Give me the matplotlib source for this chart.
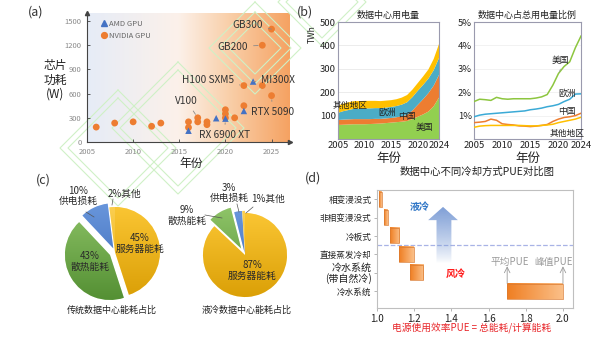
import numpy as np
import matplotlib
matplotlib.use("Agg")
import matplotlib.pyplot as plt
from matplotlib.colors import to_rgb
from matplotlib.patches import Polygon
from matplotlib.lines import Line2D

plt.rcParams['font.family'] = ['Noto Sans CJK SC', 'DejaVu Sans']
plt.rcParams['axes.unicode_minus'] = False

W, H = 600, 337

# ---------------- (a) GPU chip power ----------------
nv_year = [2006, 2008, 2010, 2012, 2013, 2016, 2016, 2017, 2017, 2018, 2018,
           2020, 2020, 2020, 2021, 2022, 2022, 2024, 2024, 2025, 2025]
nv_power = [185, 235, 250, 195, 235, 250, 180, 300, 250, 250, 215,
            400, 350, 300, 300, 450, 700, 700, 1200, 1400, 575]
amd_year = [2016, 2019, 2020, 2022, 2023]
amd_power = [140, 295, 290, 385, 750]
gpu_names = ['GB300', 'GB200', 'H100 SXM5', 'MI300X', 'V100', 'RTX 5090', 'RX 6900 XT']
gpu_name_year = [2025, 2024, 2022, 2023, 2017, 2025, 2020]
gpu_name_power = [1400, 1200, 700, 750, 300, 575, 290]
a_xticks = [2005, 2010, 2015, 2020, 2025]
a_yticks = [0, 300, 600, 900, 1200, 1500]

# ---------------- (b) data-centre electricity ----------------
years = list(range(2005, 2025))
use_us = [60, 61, 62, 63, 63, 63, 64, 65, 66, 68, 70, 72, 74, 77, 85, 95, 105, 117, 140, 177]
use_cn = [21, 22, 22, 22, 22, 22, 21, 21, 20, 20, 20, 21, 23, 26, 37, 51, 65, 79, 88, 97]
use_eu = [31, 36, 40, 44, 45, 46, 46, 46, 46, 46, 47, 48, 50, 54, 57, 60, 61, 62, 66, 72]
use_ot = [31, 32, 33, 33, 32, 32, 32, 31, 30, 30, 29, 29, 30, 31, 32, 33, 36, 39, 48, 60]
share_us = [1.60, 1.70, 1.68, 1.65, 1.78, 1.72, 1.70, 1.72, 1.72, 1.72, 1.72, 1.75, 1.80,
            1.90, 2.30, 2.80, 3.10, 3.30, 3.90, 4.40]
share_eu = [0.95, 1.02, 1.06, 1.08, 1.10, 1.12, 1.14, 1.16, 1.18, 1.20, 1.25, 1.28, 1.32,
            1.38, 1.42, 1.48, 1.60, 1.70, 1.92, 1.93]
share_cn = [0.70, 0.72, 0.75, 0.85, 0.80, 0.65, 0.62, 0.60, 0.56, 0.55, 0.53, 0.55, 0.58,
            0.62, 0.75, 0.85, 0.92, 0.95, 1.00, 1.10]
share_ot = [0.50, 0.55, 0.57, 0.58, 0.58, 0.58, 0.58, 0.58, 0.58, 0.57, 0.56, 0.56, 0.58,
            0.60, 0.63, 0.70, 0.75, 0.80, 0.85, 0.93]
region_names = ['美国', '中国', '欧洲', '其他地区']
b_xticks = [2005, 2010, 2015, 2020, 2024]

# ---------------- (c) energy breakdown ----------------
part_names = ['服务器能耗', '散热能耗', '供电损耗', '其他']
trad_share = [45, 43, 10, 2]
liquid_share = [87, 9, 3, 1]

# ---------------- (d) PUE by cooling method ----------------
cool_names = ['冷水系统', '冷水系统\n(带自然冷)', '直接蒸发冷却', '冷板式', '非相变浸没式', '相变浸没式']
pue_low = [1.70, 1.18, 1.12, 1.07, 1.04, 1.01]
pue_high = [2.00, 1.25, 1.20, 1.12, 1.06, 1.025]
d_xticks = [1.0, 1.2, 1.4, 1.6, 1.8, 2.0]


def rect(l, t, r, b):
    return [l / W, 1 - b / H, (r - l) / W, (b - t) / H]


def ftext(x, y, s, **kw):
    fig.text(x / W, 1 - y / H, s, **kw)


def ramp(c0, c1, n=256):
    a, b = np.array(to_rgb(c0)), np.array(to_rgb(c1))
    t = np.linspace(0, 1, n)[:, None]
    return a * (1 - t) + b * t


fig = plt.figure(figsize=(6, 3.37), dpi=100)
fig.patch.set_facecolor('white')

# ======================= panel (a) =======================
axa = fig.add_axes(rect(87, 13, 290, 142))
axa.set_xlim(2005, 2027)
axa.set_ylim(0, 1600)
stops = [(0.0, '#E6ECF7'), (0.45, '#FCF1EA'), (0.7, '#F9CFA9'), (1.0, '#F5A262')]
xs = np.linspace(0, 1, 400)
grad = np.zeros((1, 400, 3))
for k in range(3):
    grad[0, :, k] = np.interp(xs, [s[0] for s in stops], [to_rgb(s[1])[k] for s in stops])
axa.imshow(grad, extent=[2005, 2027, 0, 1600], aspect='auto', zorder=0)

# decorative light-green diamond outlines
diamonds = [(118, 148, 58), (118, 148, 50), (178, 128, 66), (178, 128, 58),
            (255, 48, 46), (255, 48, 36), (255, 48, 26), (322, 2, 44), (322, 2, 36)]
for cx, cy, h in diamonds:
    px = [cx, cx + h, cx, cx - h, cx]
    py = [cy - h, cy, cy + h, cy, cy - h]
    axa.add_line(Line2D([p / W for p in px], [1 - p / H for p in py], transform=fig.transFigure,
                        color='#CFF1C6', lw=0.8, clip_on=False, zorder=0.5))

for side in ['top', 'right']:
    axa.spines[side].set_visible(False)
for side in ['left', 'bottom']:
    axa.spines[side].set_color('#444444')
    axa.spines[side].set_linewidth(0.8)
axa.plot(1, 0, '>', color='#444444', ms=3, transform=axa.transAxes, clip_on=False)
axa.plot(0, 1, '^', color='#444444', ms=3, transform=axa.transAxes, clip_on=False)
axa.set_xticks(a_xticks)
axa.set_yticks(a_yticks)
axa.tick_params(direction='in', length=2, width=0.6, labelsize=5.5, labelcolor='#8a8a8a',
                color='#444444', pad=4)

axa.scatter(nv_year, nv_power, s=24, c='#ED7D31', edgecolors='none', zorder=4, label='NVIDIA GPU')
axa.scatter(amd_year, amd_power, s=22, c='#4472C4', marker='^', edgecolors='none', zorder=5,
            label='AMD GPU')
h_nv = Line2D([], [], ls='none', marker='o', color='#ED7D31', ms=4.2)
h_amd = Line2D([], [], ls='none', marker='^', color='#4472C4', ms=4.2)
axa.legend([h_amd, h_nv], ['AMD GPU', 'NVIDIA GPU'], loc='upper left', bbox_to_anchor=(0.04, 0.98),
           frameon=False, fontsize=5.5, labelcolor='#666666', handletextpad=0.2,
           labelspacing=0.45, handlelength=1.0, borderaxespad=0.2)

label_xy = [(2022.4, 1450), (2020.8, 1180), (2018.1, 765), (2025.7, 765), (2015.8, 510),
            (2025.1, 372), (2019.9, 88)]
for name, xv, yv, (tx, ty) in zip(gpu_names, gpu_name_year, gpu_name_power, label_xy):
    axa.annotate(name, xy=(xv, yv), xytext=(tx, ty), fontsize=7.3, color='#333333',
                 ha='center', va='center', zorder=6,
                 arrowprops=dict(arrowstyle='-', color='#8a8a8a', lw=0.6, shrinkA=2, shrinkB=3))

ftext(36, 12, '(a)', fontsize=9, color='#333333', ha='center', va='center')
ftext(55, 80, '芯片\n功耗\n(W)', fontsize=8.5, color='#222222', ha='center', va='center',
      linespacing=1.15)
ftext(191, 163, '年份', fontsize=8.5, color='#222222', ha='center', va='center')

# ======================= panel (b) =======================
spine_c = '#9A9AAE'
axb1 = fig.add_axes(rect(338, 22, 439, 139))
axb1.stackplot(years, use_us, use_cn, use_eu, use_ot,
               colors=['#92D050', '#ED7D31', '#4BACC6', '#FFC000'], zorder=2)
axb1.set_xlim(2005, 2024)
axb1.set_ylim(0, 500)
axb1.set_yticks([100, 200, 300, 400, 500])
axb1.set_xticks(b_xticks)
axb1.grid(axis='y', color='#E4E4E4', lw=0.5, zorder=0)
axb1.set_axisbelow(True)
axb1.tick_params(length=0, labelsize=6.8, labelcolor='#222222', pad=1.5)
for s in axb1.spines.values():
    s.set_color(spine_c)
    s.set_linewidth(0.8)
axb1.set_title('数据中心用电量', fontsize=6.5, color='#222222', pad=3)
axb1.text(2007.2, 143, '其他地区', fontsize=6.3, color='#222222', ha='center', va='center', zorder=3)
axb1.text(2014.3, 112, '欧洲', fontsize=6.3, color='#222222', ha='center', va='center', zorder=3)
axb1.text(2018.0, 97, '中国', fontsize=6.3, color='#222222', ha='center', va='center', zorder=3)
axb1.text(2021.3, 48, '美国', fontsize=6.3, color='#222222', ha='center', va='center', zorder=3)

axb2 = fig.add_axes(rect(474, 22, 581, 139))
for vals, c in zip([share_us, share_eu, share_cn, share_ot], ['#8DC63F', '#3BAAD6', '#ED7D31', '#FFC000']):
    axb2.plot(years, vals, color=c, lw=1.1, zorder=3)
axb2.set_xlim(2005, 2024)
axb2.set_ylim(0, 5)
axb2.set_yticks([1, 2, 3, 4, 5])
axb2.set_yticklabels(['1%', '2%', '3%', '4%', '5%'])
axb2.set_xticks(b_xticks)
axb2.grid(axis='y', color='#EDEDED', lw=0.5, zorder=0)
axb2.set_axisbelow(True)
axb2.tick_params(length=0, labelsize=6.8, labelcolor='#222222', pad=1.5)
for s in axb2.spines.values():
    s.set_color(spine_c)
    s.set_linewidth(0.8)
axb2.set_title('数据中心占总用电量比例', fontsize=6.5, color='#222222', pad=3)
axb2.text(2020.4, 3.35, '美国', fontsize=6.3, color='#222222', ha='center', va='center')
axb2.annotate('', xy=(2020.0, 2.75), xytext=(2020.5, 3.1),
              arrowprops=dict(arrowstyle='-', color='#999999', lw=0.5))
axb2.text(2021.5, 1.95, '欧洲', fontsize=6.3, color='#222222', ha='center', va='center')
axb2.text(2021.5, 1.17, '中国', fontsize=6.3, color='#222222', ha='center', va='center')
axb2.text(2021.5, 0.25, '其他地区', fontsize=6.3, color='#222222', ha='center', va='center')

ftext(305, 12, '(b)', fontsize=9, color='#333333', ha='center', va='center')
ftext(312, 34, 'TWh', fontsize=6.2, color='#222222', ha='center', va='center', rotation=90)
ftext(389, 158, '年份', fontsize=9, color='#222222', ha='center', va='center')
ftext(528, 158, '年份', fontsize=9, color='#222222', ha='center', va='center')

# ======================= panel (c) =======================
pie_cols = [('#FFCB3A', '#D69A00'), ('#93C86C', '#4E8A2E'), ('#6E9BE0', '#3462B0'),
            ('#FFD45A', '#E0A400')]


def shaded_pie(ax, shares, explode, lim):
    ax.set_aspect('equal')
    ax.axis('off')
    wedges, _ = ax.pie(shares, startangle=90, counterclock=False, explode=explode,
                       colors=[c[0] for c in pie_cols],
                       wedgeprops=dict(edgecolor='white', linewidth=0.4))
    for w, (c0, c1) in zip(wedges, pie_cols):
        g = ramp(c1, c0)[:, None, :]
        im = ax.imshow(g, extent=[-1.3, 1.3, -1.3, 1.3], origin='lower', aspect='auto',
                       zorder=w.get_zorder() + 0.1)
        im.set_clip_path(w)
    ax.set_xlim(-lim, lim)
    ax.set_ylim(-lim, lim)


axp1 = fig.add_axes(rect(115 - 72, 252 - 72, 115 + 72, 252 + 72))
shaded_pie(axp1, trad_share, [0, 0.13, 0.09, 0.0], 1.6)
axp2 = fig.add_axes(rect(245 - 72, 255 - 72, 245 + 72, 255 + 72))
shaded_pie(axp2, liquid_share, [0, 0.18, 0.05, 0.05], 72 / 42)

lab = dict(fontsize=7, color='#2a2a2a', ha='center', va='center', linespacing=1.1)
ftext(140, 243, f'{trad_share[0]}%\n{part_names[0]}', **lab)
ftext(90, 261, f'{trad_share[1]}%\n{part_names[1]}', **lab)
ftext(78, 196, f'{trad_share[2]}%\n{part_names[2]}', **lab)
ftext(125, 194, f'{trad_share[3]}%{part_names[3]}', **lab)
ftext(252, 270, f'{liquid_share[0]}%\n{part_names[0]}', **lab)
ftext(187, 215, f'{liquid_share[1]}%\n{part_names[1]}', **lab)
ftext(229, 193, f'{liquid_share[2]}%\n{part_names[2]}', **lab)
ftext(268, 199, f'{liquid_share[3]}%{part_names[3]}', **lab)
for (x0, y0, x1, y1) in [(86, 212, 94, 217), (113, 199, 112, 205), (205, 215, 222, 218),
                         (237, 204, 239, 212), (253, 207, 246, 213)]:
    fig.add_artist(Line2D([x0 / W, x1 / W], [1 - y0 / H, 1 - y1 / H], color='#555555', lw=0.5))
ftext(43, 180, '(c)', fontsize=9, color='#333333', ha='center', va='center')
ftext(112, 310, '传统数据中心能耗占比', fontsize=6.5, color='#222222', ha='center', va='center')
ftext(247, 310, '液冷数据中心能耗占比', fontsize=6.5, color='#222222', ha='center', va='center')

# ======================= panel (d) =======================
axd = fig.add_axes(rect(377, 190, 573, 308))
ypos = np.arange(len(cool_names))
bar_grad = ramp('#EF7E22', '#FBC089')[None, :, :]
for y, lo, hi in zip(ypos, pue_low, pue_high):
    axd.imshow(bar_grad, extent=[lo, hi, y - 0.41, y + 0.41], aspect='auto', zorder=3)
    axd.barh(y, hi - lo, left=lo, height=0.82, facecolor='none', edgecolor='#DA7A30',
             lw=0.5, zorder=4)
axd.axhline(2.5, color='#A8B3E6', ls='--', lw=0.9, zorder=2)

# up arrow from air cooling toward liquid cooling
arrow_pts = [(1.32, 1.52), (1.40, 1.52), (1.40, 3.86), (1.435, 3.86), (1.355, 4.58),
             (1.275, 3.86), (1.32, 3.86)]
arrow = Polygon(arrow_pts, closed=True, facecolor='none', edgecolor='none')
axd.add_patch(arrow)
ag = np.zeros((256, 1, 4))
ag[:, 0, :3] = to_rgb('#7E9ED6')
ag[:, 0, 3] = np.linspace(0, 1, 256) ** 0.8
im = axd.imshow(ag, extent=[1.275, 1.435, 1.52, 4.58], origin='lower', aspect='auto', zorder=2)
im.set_clip_path(arrow)
axd.set_xlim(1.0, 2.054)
axd.set_ylim(-0.92, 5.5)

axd.text(1.23, 4.6, '液冷', fontsize=7.2, color='#2E75C6', fontweight='bold', ha='center', va='center')
axd.text(1.425, 0.92, '风冷', fontsize=7.2, color='#FF1A1A', fontweight='bold', ha='center', va='center')
axd.text(1.715, 1.6, '平均PUE', fontsize=7, color='#9a9a9a', ha='center', va='center')
axd.text(1.95, 1.6, '峰值PUE', fontsize=7, color='#9a9a9a', ha='center', va='center')
for xv in (pue_low[0], pue_high[0]):
    axd.annotate('', xy=(xv, 1.35), xytext=(xv, 0.41),
                 arrowprops=dict(arrowstyle='->', color='#9a9a9a', lw=0.6, shrinkA=0, shrinkB=0))

axd.set_yticks(ypos)
axd.set_yticklabels(cool_names)
axd.set_xticks(d_xticks)
axd.set_xticklabels([f'{v:.1f}' for v in d_xticks])
axd.tick_params(axis='y', length=2, width=0.5, color='#999999', labelsize=6.2, labelcolor='#222222', pad=2)
axd.tick_params(axis='x', length=2, width=0.5, color='#999999', labelsize=7, labelcolor='#222222', pad=2)
for lbl in axd.get_yticklabels():
    if '\n' in lbl.get_text():
        lbl.set_fontsize(7.2)
        lbl.set_linespacing(1.0)
for s in axd.spines.values():
    s.set_color('#BFBFBF')
    s.set_linewidth(0.8)

ftext(313, 178, '(d)', fontsize=9, color='#333333', ha='center', va='center')
ftext(477, 172, '数据中心不同冷却方式PUE对比图', fontsize=7.5, color='#222222', ha='center', va='center')
ftext(472, 328, '电源使用效率PUE = 总能耗/计算能耗', fontsize=7, color='#E8262A', ha='center', va='center')

fig.savefig('out.png', dpi=100)
